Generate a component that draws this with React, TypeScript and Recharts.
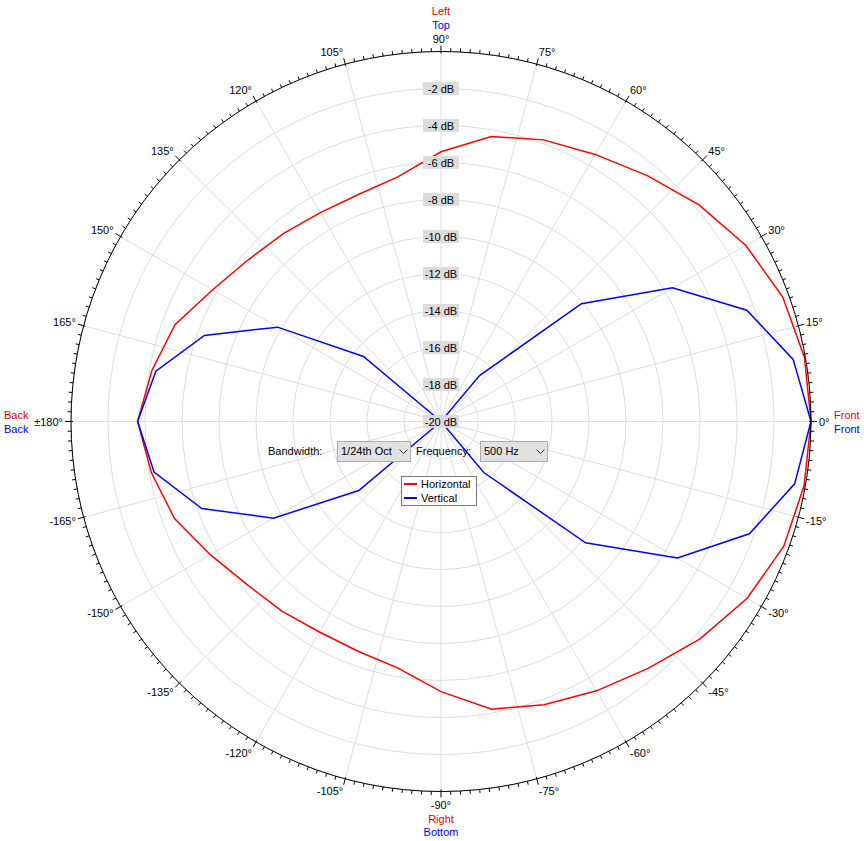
import React from 'react';
import { RadarChart, Radar, PolarGrid, PolarAngleAxis, PolarRadiusAxis, Legend } from 'recharts';

const FONT = '"Liberation Sans", Arial, sans-serif';

// measurement angles (degrees, 0 = front, counter-clockwise; 190..350 = -170..-10)
const angles = [0, 10, 20, 30, 40, 50, 60, 70, 80, 90, 100, 110, 120, 130, 140, 150, 160, 170,
  180, 190, 200, 210, 220, 230, 240, 250, 260, 270, 280, 290, 300, 310, 320, 330, 340, 350];

// Horizontal response (dB)
const horizontal = [0, -0.05, -0.34, -0.97, -1.79, -2.65, -3.33, -3.8, -4.36, -5.42, -6.57, -6.94, -6.96, -6.74, -6.4, -5.75, -4.7, -4.13,
  -3.6, -4.1, -4.67, -5.6, -6.3, -6.62, -6.86, -6.8, -6.48, -5.4, -4.21, -3.71, -3.19, -2.58, -1.72, -0.89, -0.28, -0.07];

// Vertical response (dB)
const vertical = [0, -0.67, -2.41, -5.55, -10.09, -16.76, -20, -20, -20, -20, -20, -20, -20, -20, -14.53, -9.8, -6.39, -4.35,
  -3.6, -4.25, -6.24, -9.55, -14.2, -20, -20, -20, -20, -20, -20, -20, -20, -16.4, -9.8, -5.24, -2.26, -0.59];

const seriesNames = ['Horizontal', 'Vertical'];
const seriesColors = ['#ff0000', '#0000ff'];

// axis ticks: minor every 1.5°, labelled every 15°
const angleTicks = Array.from({ length: 240 }, (_, i) => i * 1.5);
const gridAngles = [0, 15, 30, 45, 60, 75, 90, 105, 120, 135, 150, 165, 180, 195, 210, 225, 240, 255, 270, 285, 300, 315, 330, 345];
const dbTicks = [-20, -18, -16, -14, -12, -10, -8, -6, -4, -2, 0];

const data = angles.map((a, i) => ({ angle: a, Horizontal: horizontal[i], Vertical: vertical[i] }));

const TICK_SIZE = 8;

const AngleTick = (props: any) => {
  const { x, y, payload } = props;
  const v = payload.value as number;
  const rad = (payload.coordinate * Math.PI) / 180;
  const ux = Math.cos(rad);
  const uy = -Math.sin(rad);
  const bx = x - TICK_SIZE * ux;
  const by = y - TICK_SIZE * uy;
  const major = v % 15 === 0;
  if (!major) {
    return <line x1={bx} y1={by} x2={bx + 3.5 * ux} y2={by + 3.5 * uy} stroke="#000" strokeWidth={1} />;
  }
  const deg = v > 180 ? v - 360 : v;
  const label = v === 180 ? '±180°' : `${deg}°`;
  const anchor = ux > 0.05 ? 'start' : ux < -0.05 ? 'end' : 'middle';
  const lx = bx + 8 * ux;
  const ly = by + 8 * uy + 5 * uy;
  return (
    <g>
      <line x1={bx - 2 * ux} y1={by - 2 * uy} x2={bx + 6 * ux} y2={by + 6 * uy} stroke="#000" strokeWidth={1} />
      <text x={lx} y={ly} textAnchor={anchor} dominantBaseline="central" fontSize={11} fontFamily={FONT} fill="#000">
        {label}
      </text>
    </g>
  );
};

const DbTick = (props: any) => {
  const { x, y, payload } = props;
  if (payload.value === 0) return <g />;
  return (
    <g>
      <rect x={x - 18} y={y - 6.5} width={36} height={13} fill="#dcdcdc" />
      <text x={x} y={y} textAnchor="middle" dominantBaseline="central" fontSize={11} fontFamily={FONT} fill="#000">
        {`${payload.value} dB`}
      </text>
    </g>
  );
};

const LegendBox = (props: any) => {
  const payload = props.payload || [];
  return (
    <div style={{ width: 74, height: 28, border: '1px solid #7a7a7a', background: '#fff', fontFamily: FONT, fontSize: 11, boxSizing: 'content-box' }}>
      {payload.map((p: any) => (
        <div key={p.value} style={{ display: 'flex', alignItems: 'center', height: 14, lineHeight: '14px' }}>
          <div style={{ width: 13, height: 2, background: p.color, marginLeft: 2, marginRight: 4 }} />
          <span style={{ color: '#000' }}>{p.value}</span>
        </div>
      ))}
    </div>
  );
};

const Chevron = ({ left }: { left: number }) => (
  <svg style={{ position: 'absolute', left, top: 7 }} width={9} height={6}>
    <polyline points="0.5,0.5 4.5,4.5 8.5,0.5" fill="none" stroke="#333" strokeWidth={1} />
  </svg>
);

const txt = (s: string, left: number, top: number, color: string, extra: any = {}) => (
  <div style={{ position: 'absolute', left, top, color, fontSize: 11, fontFamily: FONT, lineHeight: '13px', whiteSpace: 'nowrap', ...extra }}>{s}</div>
);

export default function App() {
  return (
    <div style={{ position: 'absolute', left: 0, top: 0, width: 864, height: 841, background: '#fff', fontFamily: FONT, overflow: 'hidden' }}>
      <RadarChart
        width={864}
        height={841}
        data={data}
        cx={441}
        cy={421.5}
        innerRadius={0}
        outerRadius={370}
        startAngle={0}
        endAngle={360}
        margin={{ top: 0, right: 0, bottom: 0, left: 0 }}
      >
        <PolarGrid gridType="circle" polarAngles={gridAngles} stroke="#dddddd" strokeWidth={1} />
        <PolarRadiusAxis
          angle={90}
          type="number"
          domain={[-20, 0]}
          ticks={dbTicks}
          tick={<DbTick />}
          axisLine={false}
        />
        <PolarAngleAxis
          dataKey="angle"
          type="number"
          domain={[0, 360]}
          ticks={angleTicks}
          tick={<AngleTick />}
          tickLine={false}
          tickSize={TICK_SIZE}
          axisLineType="circle"
          axisLine={{ stroke: '#000', strokeWidth: 1 }}
          stroke="#000"
        />
        <Radar name={seriesNames[0]} dataKey="Horizontal" stroke={seriesColors[0]} strokeWidth={1.5} fill="none" fillOpacity={0} dot={false} isAnimationActive={false} />
        <Radar name={seriesNames[1]} dataKey="Vertical" stroke={seriesColors[1]} strokeWidth={1.5} fill="none" fillOpacity={0} dot={false} isAnimationActive={false} />
        <Legend content={<LegendBox />} wrapperStyle={{ left: 401, top: 476, bottom: 'auto', width: 76, height: 30 }} />
      </RadarChart>

      {/* direction labels */}
      {txt('Left', 0, 5, '#e00000', { width: 882, textAlign: 'center' })}
      {txt('Top', 0, 18.5, '#0000e0', { width: 882, textAlign: 'center' })}
      {txt('Right', 0, 812.5, '#e00000', { width: 882, textAlign: 'center' })}
      {txt('Bottom', 0, 826, '#0000e0', { width: 882, textAlign: 'center' })}
      {txt('Back', 4, 409, '#e00000')}
      {txt('Back', 4, 423, '#0000e0')}
      {txt('Front', 834, 409, '#e00000')}
      {txt('Front', 834, 423, '#0000e0')}

      {/* controls */}
      {txt('Bandwidth:', 268, 445, '#000')}
      <div style={{ position: 'absolute', left: 337, top: 441, width: 72, height: 19, background: '#e1e1e1', border: '1px solid #adadad', overflow: 'hidden' }}>
        {txt('1/24th Oct', 3, 3, '#000')}
        <Chevron left={61} />
      </div>
      {txt('Frequency:', 416, 445, '#000')}
      <div style={{ position: 'absolute', left: 480, top: 441, width: 66, height: 19, background: '#e1e1e1', border: '1px solid #adadad', overflow: 'hidden' }}>
        {txt('500 Hz', 3, 3, '#000')}
        <Chevron left={55} />
      </div>
    </div>
  );
}
